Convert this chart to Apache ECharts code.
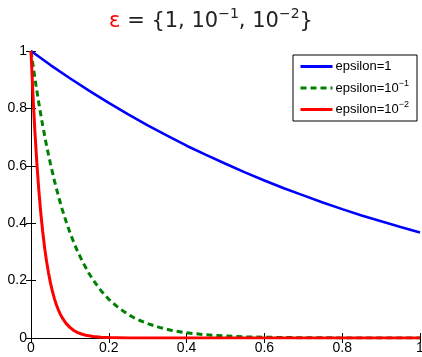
<!DOCTYPE html>
<html><head><meta charset="utf-8">
<script src="https://cdn.jsdelivr.net/npm/echarts@6/dist/echarts.min.js"></script>
<style>html,body{margin:0;padding:0;background:#fff}#c{width:422px;height:357px}</style>
</head><body><div id="c"></div>
<script>
var xTicks = [0, 0.2, 0.4, 0.6, 0.8, 1];
var yTicks = [0, 0.2, 0.4, 0.6, 0.8, 1];
var seriesNames = ['epsilon=1', 'epsilon=10^-1', 'epsilon=10^-2'];
var blueX = [0,0.05,0.1,0.15,0.2,0.25,0.3,0.35,0.4,0.45,0.5,0.55,0.6,0.65,0.7,0.75,0.8,0.85,0.9,0.95,1];
var blueY = [1,0.951,0.905,0.861,0.819,0.779,0.741,0.705,0.670,0.638,0.607,0.577,0.549,0.522,0.497,0.472,0.449,0.427,0.407,0.387,0.368];
var greenX = [0,0.01,0.02,0.03,0.04,0.05,0.06,0.07,0.08,0.09,0.1,0.11,0.12,0.13,0.14,0.15,0.16,0.17,0.18,0.19,0.2,0.22,0.24,0.26,0.28,0.3,0.33,0.36,0.4,0.45,0.5,0.55,0.6,0.7,0.8,0.9,1];
var greenY = [1,0.905,0.819,0.741,0.670,0.607,0.549,0.497,0.449,0.407,0.368,0.333,0.301,0.273,0.247,0.223,0.202,0.183,0.165,0.150,0.135,0.111,0.091,0.074,0.061,0.050,0.037,0.027,0.018,0.011,0.007,0.004,0.0025,0.001,0.0003,0.0001,0];
var redX = [0,0.005,0.01,0.015,0.02,0.025,0.03,0.035,0.04,0.045,0.05,0.055,0.06,0.065,0.07,0.075,0.08,0.09,0.1,0.11,0.12,0.13,0.14,0.16,0.18,0.2,0.25,0.3,1];
var redY = [1,0.848,0.719,0.61,0.517,0.438,0.372,0.315,0.267,0.227,0.192,0.163,0.138,0.117,0.099,0.084,0.071,0.051,0.037,0.026,0.019,0.014,0.0098,0.005,0.0026,0.0014,0.0003,0,0];

function pairs(xs, ys){ return xs.map(function(x,i){return [x, ys[i]];}); }

var chart = echarts.init(document.getElementById('c'), null, {renderer:'canvas'});
var axisCommon = {
  min: 0, max: 1, interval: 0.2,
  axisLine: {show: true, lineStyle: {color: '#000', width: 1}},
  axisTick: {show: true, inside: true, length: 5, lineStyle: {color: '#000'}},
  splitLine: {show: false}
};
function legendFmt(name){
  if (name === seriesNames[1]) return '{b|epsilon=10}{s|−1}';
  if (name === seriesNames[2]) return '{b|epsilon=10}{s|−2}';
  return '{b|' + name + '}';
}
chart.setOption({
  animation: false,
  title: {
    text: '{e|ε}{t| = {1, 10}{s|−1}{t|, 10}{s|−2}{t|}}',
    left: 'center', top: 2,
    textStyle: {
      fontFamily: 'DejaVu Sans', fontSize: 21, fontWeight: 'normal', color: '#222',
      rich: {
        e: {color: '#ff0000', fontFamily: 'DejaVu Sans', fontSize: 21, lineHeight: 30, verticalAlign: 'middle'},
        t: {color: '#222', fontFamily: 'DejaVu Sans', fontSize: 21, lineHeight: 30, verticalAlign: 'middle'},
        s: {fontSize: 14, fontFamily: 'DejaVu Sans', color: '#222', verticalAlign: 'top', lineHeight: 16}
      }
    }
  },
  grid: {left: 31, right: 2, top: 51, bottom: 19, containLabel: false, outerBoundsMode: 'none'},
  legend: {
    data: seriesNames,
    orient: 'vertical',
    right: 5, top: 55,
    itemWidth: 32, itemHeight: 14, itemGap: 6,
    padding: [5, 8, 5, 6],
    borderColor: '#000', borderWidth: 1, backgroundColor: '#fff', borderRadius: 0,
    itemStyle: {opacity: 0},
    lineStyle: {width: 3},
    formatter: legendFmt,
    textStyle: {
      fontFamily: 'Liberation Sans', fontSize: 13, color: '#000', padding: [0,0,0,-2],
      rich: {
        b: {fontSize: 13, fontFamily: 'Liberation Sans', color: '#000', lineHeight: 18, verticalAlign: 'middle'},
        s: {fontSize: 9, fontFamily: 'Liberation Sans', color: '#000', verticalAlign: 'top', lineHeight: 10}
      }
    }
  },
  xAxis: [
    Object.assign({type: 'value', position: 'bottom',
      axisLabel: {color: '#000', fontFamily: 'Liberation Sans', fontSize: 14, margin: 3}}, axisCommon),
    Object.assign({type: 'value', position: 'top', axisLabel: {show: false}}, axisCommon)
  ],
  yAxis: [
    Object.assign({type: 'value', position: 'left',
      axisLabel: {color: '#000', fontFamily: 'Liberation Sans', fontSize: 14, margin: 4}}, axisCommon),
    Object.assign({type: 'value', position: 'right', axisLabel: {show: false}}, axisCommon)
  ],
  series: [
    {name: seriesNames[0], type: 'line', data: pairs(blueX, blueY), symbol: 'none',
     lineStyle: {color: '#0000ff', width: 2.6}, itemStyle: {color: '#0000ff'}, z: 3},
    {name: seriesNames[1], type: 'line', data: pairs(greenX, greenY), symbol: 'none',
     lineStyle: {color: '#008000', width: 3, type: [6, 4]}, itemStyle: {color: '#008000'}, z: 2},
    {name: seriesNames[2], type: 'line', data: pairs(redX, redY), symbol: 'none',
     lineStyle: {color: '#ff0000', width: 3}, itemStyle: {color: '#ff0000'}, z: 4}
  ]
});
</script></body></html>
